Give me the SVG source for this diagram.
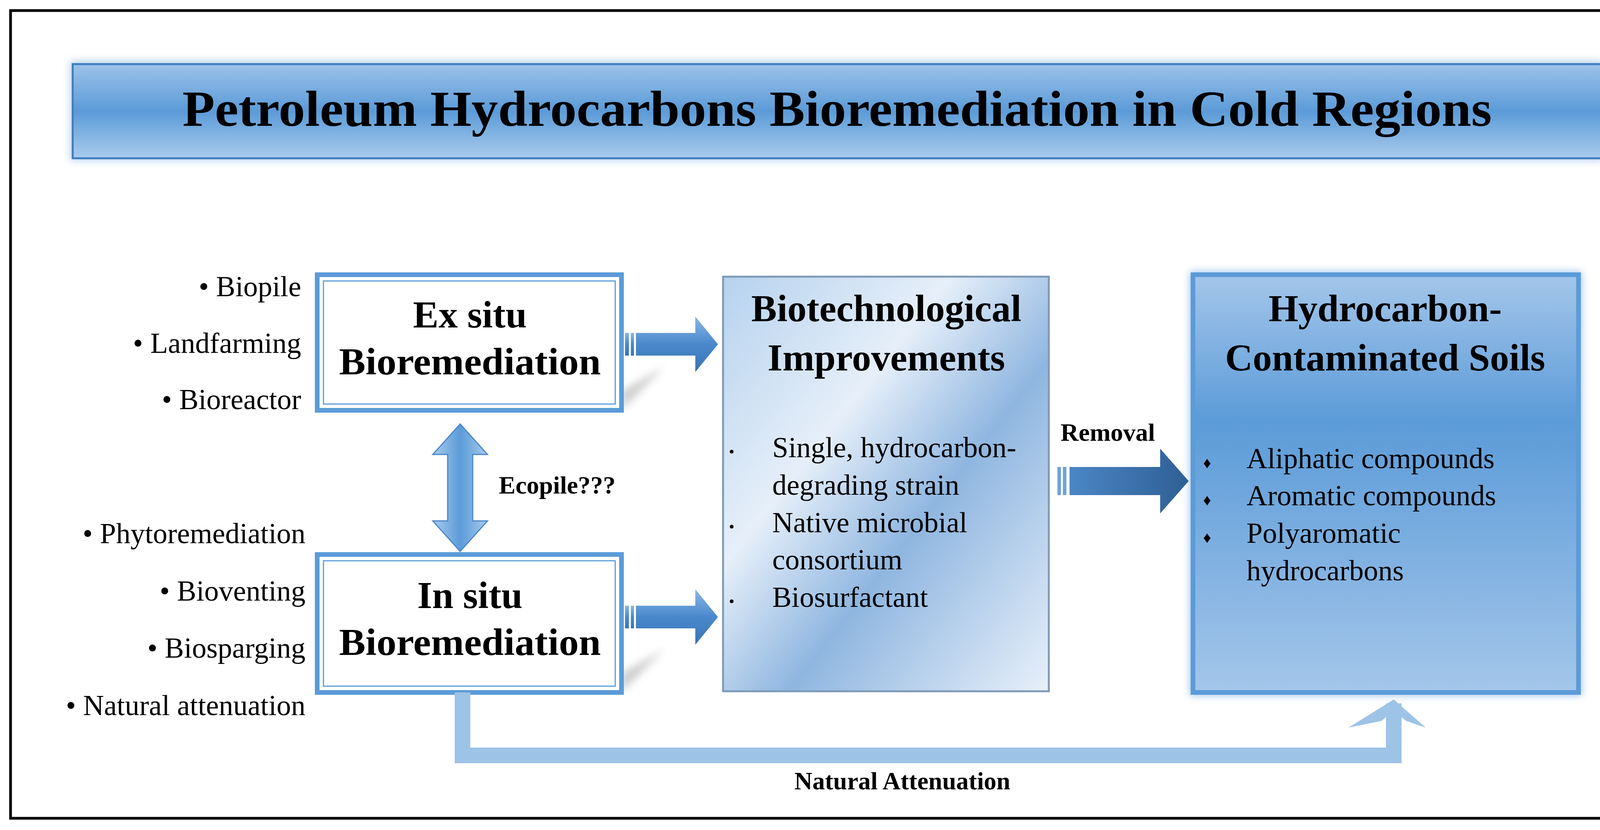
<svg xmlns="http://www.w3.org/2000/svg" width="4287" height="2124" viewBox="0 0 4287 2124">
<defs>
<linearGradient id="gTitle" x1="0" y1="0" x2="0" y2="1"><stop offset="0" stop-color="#9cc2e8"/><stop offset="0.5" stop-color="#5b9bd8"/><stop offset="1" stop-color="#a9cbec"/></linearGradient>
<linearGradient id="gBio" x1="0" y1="0" x2="1" y2="1"><stop offset="0" stop-color="#b6d2ee"/><stop offset="0.35" stop-color="#e6eff9"/><stop offset="0.6" stop-color="#8fb6e0"/><stop offset="1" stop-color="#e8f0fa"/></linearGradient>
<linearGradient id="gHyd" x1="0" y1="0" x2="0" y2="1"><stop offset="0" stop-color="#a4c6ea"/><stop offset="0.35" stop-color="#5b9bd8"/><stop offset="1" stop-color="#a4c6ea"/></linearGradient>
<linearGradient id="gArr" x1="0" y1="0" x2="0" y2="1"><stop offset="0" stop-color="#8ab8e6"/><stop offset="0.5" stop-color="#4a88cc"/><stop offset="1" stop-color="#3a73b4"/></linearGradient>
<linearGradient id="gArrV" x1="0" y1="0" x2="1" y2="0"><stop offset="0" stop-color="#a8cbee"/><stop offset="0.5" stop-color="#5b9bd8"/><stop offset="1" stop-color="#a8cbee"/></linearGradient>
<linearGradient id="gRem" x1="0" y1="0" x2="1" y2="0"><stop offset="0" stop-color="#4a86c6"/><stop offset="1" stop-color="#2f5f94"/></linearGradient>
<filter id="sh" x="-5%" y="-10%" width="110%" height="120%"><feGaussianBlur stdDeviation="10"/></filter>
</defs>
<style>
text{font-family:"Liberation Serif","DejaVu Serif",serif;fill:#000}
.b{font-weight:bold}
.t{font-size:98px;font-weight:bold;text-anchor:middle}
.l{font-size:74px;text-anchor:end}
.s{font-size:74px}
.w{fill:#fff;stroke:#5b9bd8;stroke-width:12}
.wi{fill:none;stroke:#5b9bd8;stroke-width:3}
</style>
<rect x="27" y="27" width="4233" height="2067" fill="#fff" stroke="#000" stroke-width="7"/>
<g id="title">
<rect x="180" y="156" width="3927" height="255" fill="#9cc2e8" filter="url(#sh)" opacity="0.7"/>
<rect x="186" y="164" width="3915" height="241" fill="url(#gTitle)" stroke="#3f7dc0" stroke-width="5"/>
<text x="2143" y="322" class="b" font-size="130" text-anchor="middle" textLength="3352" lengthAdjust="spacingAndGlyphs">Petroleum Hydrocarbons Bioremediation in Cold Regions</text>
</g>
<g id="exsitu">
<polygon points="1591,1050 1700,940 1591,1000" fill="#888" opacity="0.4" filter="url(#sh)"/>
<rect x="812" y="703" width="779" height="347" class="w"/>
<rect x="828" y="719" width="747" height="315" class="wi"/>
<text x="1203" y="838" class="t">Ex situ</text>
<text x="1203" y="958" class="t" textLength="670" lengthAdjust="spacingAndGlyphs">Bioremediation</text>
<text x="771" y="758" class="l">• Biopile</text>
<text x="771" y="903" class="l">• Landfarming</text>
<text x="771" y="1047" class="l">• Bioreactor</text>
</g>
<g id="insitu">
<polygon points="1591,1772 1700,1662 1591,1722" fill="#888" opacity="0.4" filter="url(#sh)"/>
<rect x="812" y="1419" width="779" height="353" class="w"/>
<rect x="828" y="1435" width="747" height="321" class="wi"/>
<text x="1203" y="1556" class="t">In situ</text>
<text x="1203" y="1676" class="t" textLength="670" lengthAdjust="spacingAndGlyphs">Bioremediation</text>
<text x="782" y="1390" class="l">• Phytoremediation</text>
<text x="782" y="1537" class="l">• Bioventing</text>
<text x="782" y="1683" class="l">• Biosparging</text>
<text x="782" y="1830" class="l">• Natural attenuation</text>
</g>
<g id="biotech">
<rect x="1851" y="708" width="834" height="1061" fill="url(#gBio)" stroke="#7f9ab8" stroke-width="5"/>
<text x="2269" y="822" class="t">Biotechnological</text>
<text x="2269" y="948" class="t">Improvements</text>
<g class="s">
<text x="1866" y="1170" font-size="40">•</text>
<text x="1977" y="1170">Single, hydrocarbon-</text>
<text x="1977" y="1266">degrading strain</text>
<text x="1866" y="1362" font-size="40">•</text>
<text x="1977" y="1362">Native microbial</text>
<text x="1977" y="1457">consortium</text>
<text x="1866" y="1553" font-size="40">•</text>
<text x="1977" y="1553">Biosurfactant</text>
</g>
</g>
<g id="soils">
<rect x="3046" y="695" width="1003" height="1085" fill="#8ab8e6" filter="url(#sh)" opacity="0.8"/>
<rect x="3054" y="703" width="987" height="1069" fill="url(#gHyd)" stroke="#5b9bd8" stroke-width="12"/>
<text x="3546" y="822" class="t">Hydrocarbon-</text>
<text x="3546" y="948" class="t">Contaminated Soils</text>
<g class="s">
<text x="3080" y="1198" font-size="40">♦</text>
<text x="3191" y="1198">Aliphatic compounds</text>
<text x="3080" y="1293" font-size="40">♦</text>
<text x="3191" y="1293">Aromatic compounds</text>
<text x="3080" y="1389" font-size="40">♦</text>
<text x="3191" y="1389">Polyaromatic</text>
<text x="3191" y="1485">hydrocarbons</text>
</g>
</g>
<g id="connectors">
<g fill="url(#gArr)">
<rect x="1600" y="852" width="10" height="58"/><rect x="1615" y="852" width="8" height="58"/>
<polygon points="1628,852 1780,852 1780,810 1838,881 1780,952 1780,910 1628,910"/>
<rect x="1600" y="1550" width="10" height="58"/><rect x="1615" y="1550" width="8" height="58"/>
<polygon points="1628,1550 1780,1550 1780,1508 1838,1579 1780,1650 1780,1608 1628,1608"/>
</g>
<polygon points="1178,1085 1248,1163 1210,1163 1210,1333 1248,1333 1178,1411 1108,1333 1146,1333 1146,1163 1108,1163" fill="url(#gArrV)" stroke="#4a86c6" stroke-width="3"/>
<text x="1277" y="1263" class="b" font-size="64">Ecopile???</text>
<g fill="url(#gRem)">
<rect x="2707" y="1195" width="9" height="72" fill="#6fa3d8"/><rect x="2721" y="1195" width="9" height="72" fill="#6fa3d8"/>
<polygon points="2738,1195 2970,1195 2970,1148 3043,1231 2970,1314 2970,1267 2738,1267"/>
</g>
<text x="2715" y="1128" class="b" font-size="64">Removal</text>
<polyline points="1184,1772 1184,1933 3568,1933 3568,1800" fill="none" stroke="#9dc3e6" stroke-width="40"/>
<polygon points="3568,1790 3650,1862 3600,1845 3568,1820 3536,1845 3452,1862" fill="#9dc3e6"/>
<text x="2310" y="2020" class="b" font-size="64" text-anchor="middle">Natural Attenuation</text>
</g>
</svg>
